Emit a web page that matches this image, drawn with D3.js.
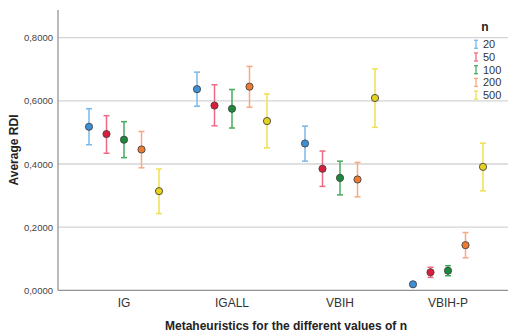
<!DOCTYPE html>
<head>
  <meta charset="utf-8">
  <script src="https://cdnjs.cloudflare.com/ajax/libs/d3/7.8.5/d3.min.js"></script>
  <style>
    body { margin:0; background:#fff; }
    svg { display:block; font-family: Arial, "Liberation Sans", sans-serif; }
  </style>
</head>
<body>
  <script>
    var categories = ["IG", "IGALL", "VBIH", "VBIH-P"];
    var nValues = ["20", "50", "100", "200", "500"];
    // mean, lower, upper per category (rows) and n (columns)
    var means = [
      [0.518, 0.495, 0.477, 0.446, 0.314],
      [0.637, 0.585, 0.575, 0.645, 0.536],
      [0.465, 0.385, 0.356, 0.351, 0.609],
      [0.019, 0.057, 0.062, 0.143, 0.391]
    ];
    var lowers = [
      [0.461, 0.434, 0.420, 0.388, 0.243],
      [0.583, 0.521, 0.514, 0.580, 0.451],
      [0.409, 0.329, 0.302, 0.296, 0.516],
      [0.017, 0.041, 0.046, 0.103, 0.315]
    ];
    var uppers = [
      [0.575, 0.553, 0.534, 0.503, 0.384],
      [0.691, 0.651, 0.636, 0.709, 0.622],
      [0.520, 0.441, 0.409, 0.405, 0.701],
      [0.021, 0.073, 0.078, 0.183, 0.466]
    ];
    var yTicks = [0, 0.2, 0.4, 0.6, 0.8];

    var markColors = ["#3d8fd6", "#d81e3a", "#1a8a3a", "#f07a30", "#e6d21a"];
    var barColors  = ["#7ab8ea", "#ee6a84", "#46ad5e", "#f8a880", "#f0e050"];

    var W = 510, H = 333;
    var svg = d3.select("body").append("svg").attr("width", W).attr("height", H);

    var y = d3.scaleLinear().domain([0, 0.8]).range([290.3, 37.7]);
    var x = d3.scaleBand().domain(categories).range([70, 502]);
    var xo = d3.scalePoint().domain(nValues).range([-35, 35]);

    // gridlines
    svg.append("g").selectAll("line").data(yTicks.slice(1)).enter().append("line")
      .attr("x1", 58).attr("x2", 508)
      .attr("y1", function(d){ return y(d); }).attr("y2", function(d){ return y(d); })
      .style("stroke", "#d4d4d4").style("stroke-width", 1.3);

    // y axis
    var yAxis = d3.axisLeft(y).tickValues(yTicks).tickSize(0).tickPadding(5)
      .tickFormat(function(d){ return d3.format(".4f")(d).replace(".", ","); });
    var gy = svg.append("g").attr("transform", "translate(58,0)").call(yAxis);
    gy.select(".domain").remove();
    gy.selectAll("text").style("font-size", "9.5px").style("fill", "#444");
    svg.append("line").attr("x1", 58).attr("x2", 58).attr("y1", 10).attr("y2", 290.3)
      .style("stroke", "#777").style("stroke-width", 1);

    // x axis
    var xAxis = d3.axisBottom(x).tickSize(0).tickPadding(8);
    var gx = svg.append("g").attr("transform", "translate(0,290.3)").call(xAxis);
    gx.select(".domain").remove();
    gx.selectAll("text").style("font-size", "12px").style("fill", "#333");
    svg.append("line").attr("x1", 58).attr("x2", 508).attr("y1", 290.3).attr("y2", 290.3)
      .style("stroke", "#777").style("stroke-width", 1);

    // data
    var pts = [];
    categories.forEach(function(c, i){
      nValues.forEach(function(n, j){
        pts.push({cat: c, n: n, j: j, m: means[i][j], lo: lowers[i][j], hi: uppers[i][j]});
      });
    });

    var g = svg.append("g").selectAll("g").data(pts).enter().append("g")
      .attr("transform", function(d){ return "translate(" + (x(d.cat) + x.bandwidth()/2 + xo(d.n)) + ",0)"; });
    g.append("line").attr("y1", function(d){ return y(d.lo); }).attr("y2", function(d){ return y(d.hi); })
      .style("stroke", function(d){ return barColors[d.j]; }).style("stroke-width", 1.5);
    g.append("line").attr("x1", -3).attr("x2", 3)
      .attr("y1", function(d){ return y(d.lo); }).attr("y2", function(d){ return y(d.lo); })
      .style("stroke", function(d){ return barColors[d.j]; }).style("stroke-width", 1.5);
    g.append("line").attr("x1", -3).attr("x2", 3)
      .attr("y1", function(d){ return y(d.hi); }).attr("y2", function(d){ return y(d.hi); })
      .style("stroke", function(d){ return barColors[d.j]; }).style("stroke-width", 1.5);
    g.append("circle").attr("cy", function(d){ return y(d.m); }).attr("r", 3.6)
      .style("fill", function(d){ return markColors[d.j]; })
      .style("stroke", "#444").style("stroke-width", 0.9);

    // legend
    var leg = svg.append("g");
    leg.append("text").attr("x", 485).attr("y", 31).attr("text-anchor", "middle")
      .style("font-size", "12px").style("font-weight", "bold").style("fill", "#222").text("n");
    var li = leg.selectAll("g").data(nValues).enter().append("g")
      .attr("transform", function(d, i){ return "translate(476," + (44.3 + i * 12.7) + ")"; });
    li.append("line").attr("y1", -4).attr("y2", 4)
      .style("stroke", function(d, i){ return barColors[i]; }).style("stroke-width", 1.3);
    li.append("line").attr("x1", -2).attr("x2", 2).attr("y1", -4).attr("y2", -4)
      .style("stroke", function(d, i){ return barColors[i]; }).style("stroke-width", 1.3);
    li.append("line").attr("x1", -2).attr("x2", 2).attr("y1", 4).attr("y2", 4)
      .style("stroke", function(d, i){ return barColors[i]; }).style("stroke-width", 1.3);
    li.append("text").attr("x", 7).attr("y", 4).style("font-size", "11px").style("fill", "#333")
      .text(function(d){ return d; });

    // titles
    svg.append("text").attr("x", 286).attr("y", 330).attr("text-anchor", "middle")
      .style("font-size", "12px").style("font-weight", "bold").style("fill", "#222")
      .text("Metaheuristics for the different values of n");
    svg.append("text").attr("transform", "translate(18,150) rotate(-90)").attr("text-anchor", "middle")
      .style("font-size", "12px").style("font-weight", "bold").style("fill", "#222")
      .text("Average RDI");
  </script>
</body>
